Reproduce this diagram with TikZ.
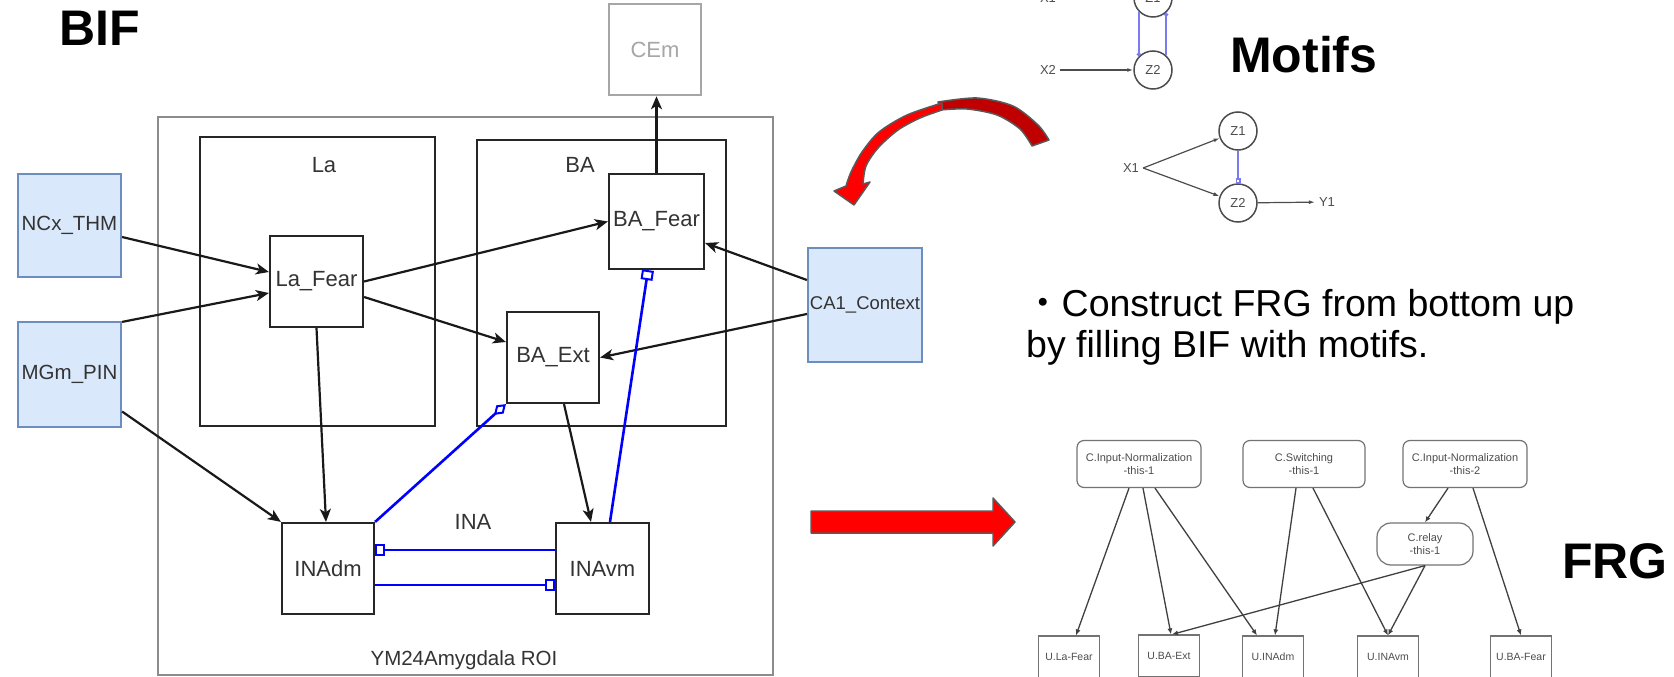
\documentclass[tikz,border=0pt]{standalone}
\usepackage{fontspec}
\setmainfont{Liberation Sans}
\newfontfamily\jpfont{Noto Sans CJK JP}
\usetikzlibrary{arrows.meta,calc}
\definecolor{InBlue}{HTML}{DAE8FC}
\definecolor{InBlueLine}{HTML}{6C8EBF}
\definecolor{InhBlue}{HTML}{0000FF}
\definecolor{MotifBlue}{HTML}{7B7BF0}
\definecolor{ArrowRed}{HTML}{FF0000}
\definecolor{ArrowDark}{HTML}{C00000}
\definecolor{ArrowEdge}{HTML}{595959}
\tikzset{
  unit/.style={draw=black!85, line width=2.2pt, fill=white, inner sep=0pt,
               minimum width=92pt, minimum height=91pt,
               font=\fontsize{22}{26}\selectfont, text=black!80},
  input/.style={unit, fill=InBlue, draw=InBlueLine, minimum width=103pt},
  target/.style={unit, draw=black!35, text=black!35, line width=2.5pt},
  region/.style={draw=black!85, line width=2.2pt, inner sep=0pt},
  roi/.style={draw=black!45, line width=2pt, inner sep=0pt},
  title/.style={font=\fontsize{22}{26}\selectfont, text=black!80, inner sep=0pt},
  heading/.style={font=\fontsize{50}{56}\selectfont\bfseries, inner sep=0pt, anchor=base west},
  note/.style={font=\fontsize{37.5}{42}\selectfont, inner sep=0pt, anchor=base west},
  exc/.style={-{Stealth[length=13pt, width=11pt, inset=3.5pt]}, line width=2.2pt, black!90},
  inh/.style={-{Square[open, fill=white, length=10pt, width=12pt, line width=2pt]}, line width=2.6pt, InhBlue},
  inhd/.style={-{Diamond[open, fill=white, length=16pt, width=11pt, line width=2pt]}, line width=2.6pt, InhBlue},
  % motif sketches
  mnode/.style={circle, draw=black!70, line width=1.5pt, minimum size=38pt, inner sep=0pt,
                font=\fontsize{13}{15}\selectfont, text=black!70},
  mlabel/.style={inner sep=4pt, font=\fontsize{13}{15}\selectfont, text=black!70},
  marrow/.style={-{Latex[length=6pt, width=4pt]}, line width=1.2pt, black!70},
  mlink/.style={line width=1.6pt, MotifBlue},
  % FRG graph
  cbox/.style={draw=black!55, line width=1.2pt, rounded corners=7pt, inner sep=0pt,
               minimum width=124pt, minimum height=47pt, align=center,
               font=\fontsize{11}{13}\selectfont, text=black!70},
  ubox/.style={draw=black!55, line width=1.2pt, inner sep=0pt,
               minimum width=61pt, minimum height=42pt,
               font=\fontsize{10.5}{12}\selectfont, text=black!70},
  farrow/.style={-{Latex[length=6pt, width=5pt]}, line width=1.3pt, black!75},
  ribbon/.style={draw=ArrowEdge, line width=1.5pt, line join=round}
}

\begin{document}
\begin{tikzpicture}[x=1pt, y=-1pt]
  \useasboundingbox (0,0) rectangle (1674,677);
  \clip (0,0) rectangle (1674,677);

  % BIF
  \node[heading] (bif) at (59,46) {BIF};
  \node[roi, minimum width=615pt, minimum height=558pt] (roi) at (465.5,396) {};
  \node[title, font=\fontsize{20.5}{24}\selectfont] (roi-title) at (464,660) {YM24Amygdala ROI};
  \node[region, minimum width=235pt, minimum height=289pt] (la) at (317.5,281.5) {};
  \node[region, minimum width=249pt, minimum height=286pt] (ba) at (601.5,283) {};
  \node[title] (la-title) at (324,165) {La};
  \node[title] (ba-title) at (580,165) {BA};
  \node[title] (ina-title) at (473,522) {INA};

  \node[target] (cem) at (655,49.5) {CEm};
  \node[input, minimum height=103pt, font=\fontsize{20.5}{24}\selectfont] (ncx) at (69.5,225.5) {NCx\_THM};
  \node[input, minimum height=105pt, font=\fontsize{20.5}{24}\selectfont] (mgm) at (69.5,374.5) {MGm\_PIN};
  \node[input, minimum width=114pt, minimum height=114pt, font=\fontsize{18.5}{22}\selectfont] (ca1) at (865,305) {CA1\_Context};
  \node[unit, minimum width=93pt] (lafear) at (316.5,281.5) {La\_Fear};
  \node[unit, minimum width=95pt, minimum height=95pt] (bafear) at (656.5,221.5) {BA\_Fear};
  \node[unit] (baext) at (553,357.5) {BA\_Ext};
  \node[unit] (inadm) at (328,568.5) {INAdm};
  \node[unit, minimum width=93pt] (inavm) at (602.5,568.5) {INAvm};

  \draw[exc] ($(ncx.east)+(0,11.5)$) -- ($(lafear.west)+(0,-9.5)$);
  \draw[exc] ($(mgm.north east)+(0,1)$) -- ($(lafear.west)+(0,11.5)$);
  \draw[exc] (lafear.east) -- (bafear.west);
  \draw[exc] ($(lafear.east)+(0,15.5)$) -- ($(baext.west)+(0,-15.5)$);
  \draw[exc] ($(ca1.west)+(0,-25)$) -- ($(bafear.east)+(0,21.5)$);
  \draw[exc] ($(ca1.west)+(0,9)$) -- (baext.east);
  \draw[exc] (bafear.north) -- (bafear.north |- cem.south);
  \draw[exc] (lafear.south) -- ($(inadm.north)+(-2,0)$);
  \draw[exc] ($(mgm.east)+(0,37)$) -- (inadm.north west);
  \draw[exc] ($(baext.south)+(11,0)$) -- ($(inavm.north)+(-11.5,0)$);
  \draw[inhd] (inadm.north east) -- (baext.south west);
  \draw[inh] ($(inavm.north)+(7.5,0)$) -- ($(bafear.south)+(-8.5,0)$);
  \draw[inh] ($(inavm.west)+(0,-18.5)$) -- ($(inadm.east)+(0,-18.5)$);
  \draw[inh] ($(inadm.east)+(0,16.5)$) -- ($(inavm.west)+(0,16.5)$);

  % curved arrow, dark back then bright front
  \draw[ribbon, fill=ArrowDark]
    plot[smooth] coordinates {(938,102) (977,98) (1013,106) (1038,125) (1049,140)}
    -- plot[smooth] coordinates {(1032,146) (1020,129) (997,115) (967,109) (940,110)} -- cycle;
  \draw[ribbon, fill=ArrowRed]
    plot[smooth] coordinates {(942,103) (907,115) (879,132) (862,152) (851,172) (846,186)}
    -- (834,191) -- (854,205) -- (870,182)
    -- plot[smooth] coordinates {(863,184) (866,166) (878,148) (898,130) (920,118) (942,110)} -- cycle;
  \draw[ribbon, fill=ArrowRed] (811,511) -- (993,511) -- (993,498) -- (1015,522)
    -- (993,546) -- (993,533) -- (811,533) -- cycle;

  % motifs
  \node[heading] (motifs) at (1230,73) {Motifs};
  \node[mlabel] (ma-x1) at (1048,-2) {X1};
  \node[mlabel] (ma-x2) at (1048,70) {X2};
  \node[mnode] (ma-z1) at (1153,-2) {Z1};
  \node[mnode] (ma-z2) at (1153,70) {Z2};
  \draw[marrow] (ma-x1) -- (ma-z1);
  \draw[marrow] (ma-x2) -- (ma-z2);
  \draw[mlink, -{Circle[open, length=4pt, width=4pt]}] (ma-z1.-136) -- (ma-z2.136);
  \draw[mlink, -{Circle[open, length=4pt, width=4pt]}] (ma-z2.48) -- (ma-z1.-48);

  \node[mlabel] (mb-x1) at (1131,168) {X1};
  \node[mnode] (mb-z1) at (1238,131) {Z1};
  \node[mnode] (mb-z2) at (1238,203) {Z2};
  \node[mlabel] (mb-y1) at (1327,202) {Y1};
  \draw[marrow] (mb-x1.east) -- (mb-z1);
  \draw[marrow] (mb-x1.east) -- (mb-z2);
  \draw[marrow] (mb-z2) -- (mb-y1);
  \draw[mlink, -{Square[open, length=5pt, width=5pt]}] (mb-z1) -- (mb-z2);

  \node[note] (note1) at (1024,316) {{\jpfont ・}Construct FRG from bottom up};
  \node[note] (note2) at (1026,357) {by filling BIF with motifs.};

  % FRG
  \node[heading] (frg) at (1562,578) {FRG};
  \node[cbox] (cin1) at (1139,464) {C.Input-Normalization\\-this-1};
  \node[cbox, minimum width=122pt] (csw) at (1304,464) {C.Switching\\-this-1};
  \node[cbox] (cin2) at (1465,464) {C.Input-Normalization\\-this-2};
  \node[cbox, minimum width=96pt, minimum height=42pt, rounded corners=14pt] (crelay) at (1425,544) {C.relay\\-this-1};
  \node[ubox] (ulafear) at (1069,657) {U.La-Fear};
  \node[ubox] (ubaext) at (1169,656) {U.BA-Ext};
  \node[ubox] (uinadm) at (1273,657) {U.INAdm};
  \node[ubox] (uinavm) at (1388,657) {U.INAvm};
  \node[ubox] (ubafear) at (1521,657) {U.BA-Fear};

  \draw[farrow] ($(cin1.south)+(-10,0)$) -- ($(ulafear.north)+(7,0)$);
  \draw[farrow] ($(cin1.south)+(4,0)$) -- ($(ubaext.north)+(2,0)$);
  \draw[farrow] ($(cin1.south)+(16,0)$) -- ($(uinadm.north)+(-16,0)$);
  \draw[farrow] ($(csw.south)+(-8,0)$) -- ($(uinadm.north)+(2,0)$);
  \draw[farrow] ($(csw.south)+(9,0)$) -- (uinavm.north);
  \draw[farrow] ($(cin2.south)+(-17,0)$) -- (crelay.north);
  \draw[farrow] ($(cin2.south)+(8,0)$) -- (ubafear.north);
  \draw[farrow] (crelay.south) -- ($(ubaext.north)+(3,0)$);
  \draw[farrow] (crelay.south) -- (uinavm.north);
\end{tikzpicture}
\end{document}
